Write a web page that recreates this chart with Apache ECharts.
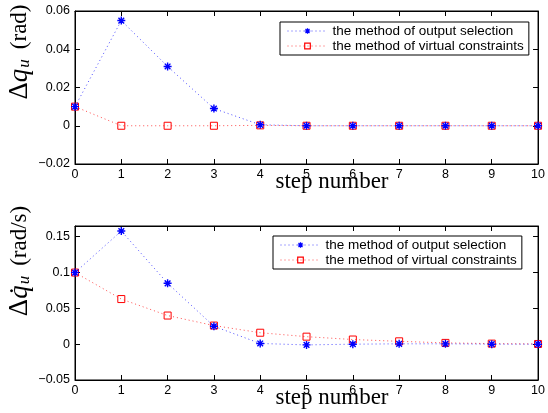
<!DOCTYPE html>
<html>
<head>
<meta charset="utf-8">
<script src="https://cdn.jsdelivr.net/npm/echarts@6/dist/echarts.min.js"></script>
<style>
html,body{margin:0;padding:0;background:#fff;}
#main{width:548px;height:413px;}
</style>
</head>
<body>
<div id="main"></div>
<script>
// step numbers
var steps = [0, 1, 2, 3, 4, 5, 6, 7, 8, 9, 10];
// angle error (rad)
var qOutput  = [0.010, 0.055, 0.031, 0.009, 0.0005, 0, 0, 0, 0, 0, 0];
var qVirtual = [0.010, 0, 0, 0, 0.0002, 0, 0, 0, 0, 0, 0];
// angular velocity error (rad/s)
var dqOutput  = [0.100, 0.158, 0.085, 0.025, 0.001, -0.001, 0, 0.0005, 0.0005, 0, 0];
var dqVirtual = [0.100, 0.063, 0.040, 0.026, 0.016, 0.0105, 0.0065, 0.004, 0.0018, 0.0008, 0.0003];

var nameOut = 'the method of output selection';
var nameVir = 'the method of virtual constraints';

var starPath = 'path://M0,-10L0,10M-10,0L10,0M-7.1,-7.1L7.1,7.1M-7.1,7.1L7.1,-7.1';
var fontSans = 'Liberation Sans, Helvetica, Arial, sans-serif';
var fontSerif = 'Liberation Serif, Times New Roman, serif';

function pairs(ys) {
    var out = [];
    for (var i = 0; i < steps.length; i++) {
        out.push([steps[i], ys[i]]);
    }
    return out;
}

function fmt(v) {
    if (v < 0) return '\u2212' + (-v);
    return String(v);
}

function xAx(gi, pos, showLabel) {
    return {
        type: 'value', gridIndex: gi, position: pos,
        min: 0, max: 10, interval: 1,
        axisLine: {show: true, onZero: false, lineStyle: {color: '#000', width: 1}},
        axisTick: {show: true, inside: true, length: 5, lineStyle: {color: '#000'}},
        axisLabel: {show: showLabel, margin: 4, color: '#000', fontSize: 12.5, fontFamily: fontSans},
        splitLine: {show: false}
    };
}

function yAx(gi, pos, showLabel, mn, mx, step) {
    return {
        type: 'value', gridIndex: gi, position: pos,
        min: mn, max: mx, interval: step,
        axisLine: {show: true, onZero: false, lineStyle: {color: '#000', width: 1}},
        axisTick: {show: true, inside: true, length: 5, lineStyle: {color: '#000'}},
        axisLabel: {show: showLabel, margin: 5, showMaxLabel: mx === 0.06, color: '#000', fontSize: 12.5, fontFamily: fontSans, formatter: fmt},
        splitLine: {show: false}
    };
}

function lineSeries(name, xi, yi, data, color, symbol, z) {
    return {
        name: name, type: 'line', xAxisIndex: xi, yAxisIndex: yi,
        data: pairs(data),
        symbol: symbol, symbolSize: symbol === 'rect' ? 7 : 8, z: z,
        showAllSymbol: true,
        animation: false,
        lineStyle: {type: [1, 3], width: 1, color: color, opacity: 0.7},
        itemStyle: {color: symbol === 'rect' ? 'rgba(255,255,255,0)' : color, borderColor: color, borderWidth: symbol === 'rect' ? 1 : 1.4}
    };
}

function legendBox(left, top) {
    return {
        left: left, top: top, orient: 'vertical',
        data: [nameOut, nameVir],
        backgroundColor: '#fff', borderColor: '#000', borderWidth: 1, borderRadius: 0,
        padding: [2, 5, 2, 7], itemGap: 1,
        itemWidth: 40, itemHeight: 7,
        selectedMode: false,
        itemStyle: {borderWidth: 1.2},
        lineStyle: {width: 1, type: [1, 3]},
        textStyle: {color: '#000', fontSize: 13.5, fontFamily: fontSans}
    };
}

function yLabel(x, y, dotted, unit) {
    return {
        type: 'text', x: x, y: y, rotation: Math.PI / 2,
        style: {
            text: '{d|\u0394}{q|' + (dotted ? 'q\u0307' : 'q') + '}{s|u}   {r|(' + unit + ')}',
            align: 'center', verticalAlign: 'middle',
            fill: '#000',
            rich: {
                d: {fontSize: 27, fontFamily: fontSerif, verticalAlign: 'middle'},
                q: {fontSize: 27, fontFamily: fontSerif, fontStyle: 'italic', verticalAlign: 'middle'},
                s: {fontSize: 17, fontFamily: fontSerif, fontStyle: 'italic', verticalAlign: 'bottom', padding: [0, 0, 0, 1]},
                r: {fontSize: 23, fontFamily: fontSerif, verticalAlign: 'middle'}
            }
        }
    };
}

function xLabel(x, y) {
    return {
        type: 'text', x: x, y: y,
        style: {text: 'step number', font: '23px ' + fontSerif, fill: '#000', align: 'center', verticalAlign: 'middle'}
    };
}

var myChart = echarts.init(document.getElementById('main'));

var option = {
    animation: false,
    backgroundColor: '#fff',
    grid: [
        {left: 75, top: 11, width: 468, height: 153, show: true, borderColor: '#000', borderWidth: 1, backgroundColor: 'transparent'},
        {left: 75, top: 226, width: 468, height: 154, show: true, borderColor: '#000', borderWidth: 1, backgroundColor: 'transparent'}
    ],
    xAxis: [
        xAx(0, 'bottom', true),
        xAx(0, 'top', false),
        xAx(1, 'bottom', true),
        xAx(1, 'top', false)
    ],
    yAxis: [
        yAx(0, 'left', true, -0.02, 0.06, 0.02),
        yAx(0, 'right', false, -0.02, 0.06, 0.02),
        yAx(1, 'left', true, -0.05, 0.165, 0.05),
        yAx(1, 'right', false, -0.05, 0.165, 0.05)
    ],
    legend: [legendBox(280, 22), legendBox(273, 236)],
    graphic: [
        yLabel(20, 52, false, 'rad'),
        yLabel(20, 261, true, 'rad/s'),
        xLabel(332, 182),
        xLabel(332, 398)
    ],
    series: [
        lineSeries(nameOut, 0, 0, qOutput, '#0000ff', starPath, 3),
        lineSeries(nameVir, 0, 0, qVirtual, '#ff0000', 'rect', 2),
        lineSeries(nameOut, 2, 2, dqOutput, '#0000ff', starPath, 3),
        lineSeries(nameVir, 2, 2, dqVirtual, '#ff0000', 'rect', 2)
    ]
};

myChart.setOption(option);
</script>
</body>
</html>
